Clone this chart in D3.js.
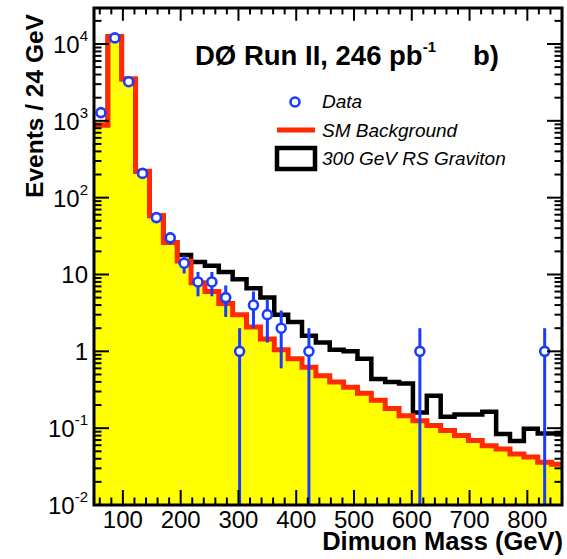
<!DOCTYPE html>
<html>
<head>
<meta charset="utf-8">
<script src="https://cdn.jsdelivr.net/npm/d3@7"></script>
<style>
  body { margin: 0; background: #fff; }
  svg { font-family: 'Liberation Sans', Arial, Helvetica, sans-serif; }
</style>
</head>
<body>
<div id="chart"></div>
<script>
// bins of 24 GeV starting at 50 GeV
const binStart = 50;
const binWidth = 24;

// observed events per bin
const dataCounts = [1280, 12000, 3230, 207, 55, 30, 14, 8, 8, 5, 1, 4, 3, 2, 0, 1,
  0, 0, 0, 0, 0, 0, 0, 1, 0, 0, 0, 0, 0, 0, 0, 0, 1, 0];
const dataErr = [36, 110, 57, 14.4, 7.4, 5.5, 3.7, 2.8, 2.8, 2.2, 1, 2, 1.7, 1.4, 0, 1,
  0, 0, 0, 0, 0, 0, 0, 1, 0, 0, 0, 0, 0, 0, 0, 0, 1, 0];

// SM background expectation
const smBackground = [880, 12500, 3500, 220, 58, 26, 15, 7.8, 6.0, 4.2, 3.0, 2.07,
  1.45, 1.05, 0.80, 0.62, 0.48, 0.40, 0.34, 0.285, 0.23, 0.18, 0.145, 0.125,
  0.108, 0.093, 0.080, 0.069, 0.059, 0.0535, 0.046, 0.042, 0.036, 0.034];

// SM + 300 GeV RS graviton
const graviton = [880, 12500, 3500, 220, 58, 26, 18, 14.5, 13.0, 10.8, 8.7, 6.6,
  5.0, 3.0, 2.4, 1.6, 1.3, 1.05, 1.0, 0.8, 0.435, 0.40, 0.38, 0.16,
  0.265, 0.141, 0.151, 0.151, 0.163, 0.084, 0.068, 0.098, 0.085, 0.085];

const xTickLabels = [100, 200, 300, 400, 500, 600, 700, 800];
const yTickLabels = [
  { v: 0.01, base: '10', exp: '-2' },
  { v: 0.1, base: '10', exp: '-1' },
  { v: 1, base: '1', exp: '' },
  { v: 10, base: '10', exp: '' },
  { v: 100, base: '10', exp: '2' },
  { v: 1000, base: '10', exp: '3' },
  { v: 10000, base: '10', exp: '4' }
];

const W = 567, H = 559;
const pLeft = 94, pRight = 562, pTop = 8, pBottom = 505;

const svg = d3.select('#chart').append('svg')
  .attr('width', W).attr('height', H);

const x = d3.scaleLinear().domain([50, 860]).range([pLeft, pRight]);
const y = d3.scaleLog().domain([0.01, 29400]).range([pBottom, pTop]);

svg.append('clipPath').attr('id', 'plotclip')
  .append('rect')
  .attr('x', pLeft).attr('y', pTop)
  .attr('width', pRight - pLeft).attr('height', pBottom - pTop);

const plot = svg.append('g').attr('clip-path', 'url(#plotclip)');

// step points: (low edge, value) plus closing point at last high edge
const toSteps = vals => {
  const pts = vals.map((v, i) => ({ m: binStart + i * binWidth, v }));
  pts.push({ m: binStart + vals.length * binWidth, v: vals[vals.length - 1] });
  return pts;
};

const stepLine = d3.line()
  .x(d => x(d.m))
  .y(d => y(d.v))
  .curve(d3.curveStepAfter);

const stepArea = d3.area()
  .x(d => x(d.m))
  .y0(pBottom + 5)
  .y1(d => y(d.v))
  .curve(d3.curveStepAfter);

// yellow fill under background
plot.append('path')
  .datum(toSteps(smBackground))
  .attr('d', stepArea)
  .attr('fill', '#ffff00');

// graviton outline
plot.append('path')
  .datum(toSteps(graviton))
  .attr('d', stepLine)
  .attr('fill', 'none')
  .attr('stroke', '#000')
  .attr('stroke-width', 4.5);

// background outline
plot.append('path')
  .datum(toSteps(smBackground))
  .attr('d', stepLine)
  .attr('fill', 'none')
  .attr('stroke', '#ff2a00')
  .attr('stroke-width', 5);

// data points with error bars
const blue = '#1a3cff';
const pts = dataCounts.map((n, i) => ({ m: binStart + (i + 0.5) * binWidth, n, e: dataErr[i] }))
  .filter(d => d.n > 0);

plot.selectAll('line.err').data(pts).enter()
  .append('line')
  .attr('class', 'err')
  .attr('x1', d => x(d.m)).attr('x2', d => x(d.m))
  .attr('y1', d => y(d.n + d.e))
  .attr('y2', d => d.n - d.e > 0.01 ? y(d.n - d.e) : pBottom + 5)
  .attr('stroke', blue)
  .attr('stroke-width', 3);

plot.selectAll('circle.pt').data(pts).enter()
  .append('circle')
  .attr('class', 'pt')
  .attr('cx', d => x(d.m))
  .attr('cy', d => y(d.n))
  .attr('r', 4.5)
  .attr('fill', '#fff')
  .attr('stroke', blue)
  .attr('stroke-width', 2.6);

// frame and ticks
const axes = svg.append('g').attr('stroke', '#000');

const xTicks = d3.range(60, 861, 20);
xTicks.forEach(t => {
  const len = t % 100 === 0 ? 15 : 7.5;
  axes.append('line').attr('x1', x(t)).attr('x2', x(t))
    .attr('y1', pBottom).attr('y2', pBottom - len).attr('stroke-width', 2);
  axes.append('line').attr('x1', x(t)).attr('x2', x(t))
    .attr('y1', pTop).attr('y2', pTop + len * 0.85).attr('stroke-width', 2);
});

const yTicks = y.ticks(40).filter(t => t >= 0.01 && t <= 29400);
yTicks.forEach(t => {
  const major = Math.abs(Math.log10(t) - Math.round(Math.log10(t))) < 1e-6;
  const len = major ? 15 : 7.5;
  axes.append('line').attr('x1', pLeft).attr('x2', pLeft + len)
    .attr('y1', y(t)).attr('y2', y(t)).attr('stroke-width', 2);
  axes.append('line').attr('x1', pRight).attr('x2', pRight - len)
    .attr('y1', y(t)).attr('y2', y(t)).attr('stroke-width', 2);
});

axes.append('rect')
  .attr('x', pLeft).attr('y', pTop)
  .attr('width', pRight - pLeft).attr('height', pBottom - pTop)
  .attr('fill', 'none')
  .attr('stroke-width', 3);

// tick labels
svg.append('g').selectAll('text').data(xTickLabels).enter()
  .append('text')
  .attr('x', d => x(d))
  .attr('y', 528)
  .attr('text-anchor', 'middle')
  .attr('font-size', 24)
  .text(d => d);

const yl = svg.append('g').selectAll('text').data(yTickLabels).enter()
  .append('text')
  .attr('x', 88)
  .attr('y', d => y(d.v) + 9)
  .attr('text-anchor', 'end')
  .attr('font-size', 24);
yl.append('tspan').text(d => d.base);
yl.filter(d => d.exp).append('tspan')
  .attr('dy', -12)
  .attr('font-size', 15)
  .text(d => d.exp);

// axis titles
svg.append('text')
  .attr('transform', 'translate(43,106) rotate(-90)')
  .attr('text-anchor', 'middle')
  .attr('font-size', 24.5)
  .attr('font-weight', 'bold')
  .text('Events / 24 GeV');

svg.append('text')
  .attr('x', 563).attr('y', 550)
  .attr('text-anchor', 'end')
  .attr('font-size', 25.5)
  .attr('font-weight', 'bold')
  .text('Dimuon Mass (GeV)');

// title
const title = svg.append('text')
  .attr('x', 195).attr('y', 65)
  .attr('font-size', 27.5)
  .attr('font-weight', 'bold');
title.append('tspan').text('DØ Run II, 246 pb');
title.append('tspan').attr('dy', -13).attr('font-size', 15).text('-1');

svg.append('text')
  .attr('x', 473).attr('y', 65)
  .attr('font-size', 27.5)
  .attr('font-weight', 'bold')
  .text('b)');

// legend
const leg = svg.append('g').attr('font-size', 19).attr('font-style', 'italic');
leg.append('circle').attr('cx', 295).attr('cy', 102).attr('r', 4.5)
  .attr('fill', '#fff').attr('stroke', blue).attr('stroke-width', 2.6);
leg.append('text').attr('x', 322).attr('y', 108).text('Data');
leg.append('line').attr('x1', 277).attr('x2', 315).attr('y1', 130).attr('y2', 130)
  .attr('stroke', '#ff2a00').attr('stroke-width', 5);
leg.append('text').attr('x', 322).attr('y', 137).text('SM Background');
leg.append('rect').attr('x', 277).attr('y', 148).attr('width', 38).attr('height', 21)
  .attr('fill', 'none').attr('stroke', '#000').attr('stroke-width', 4.5);
leg.append('text').attr('x', 322).attr('y', 165).text('300 GeV RS Graviton');
</script>
</body>
</html>
